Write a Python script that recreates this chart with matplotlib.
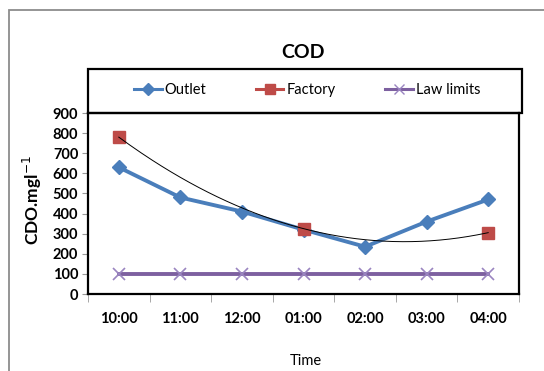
import matplotlib
matplotlib.use("Agg")
import matplotlib.pyplot as plt
from matplotlib.patches import Rectangle
from matplotlib.lines import Line2D
import numpy as np

plt.rcParams['font.family'] = ['Lato', 'DejaVu Sans']

times = ["10:00", "11:00", "12:00", "01:00", "02:00", "03:00", "04:00"]
outlet = [630, 480, 410, 320, 235, 360, 470]
factory_idx = [0, 3, 6]
factory = [780, 325, 305]
law_limits = [100, 100, 100, 100, 100, 100, 100]

BLUE, RED, PURPLE = "#4a7ebb", "#be4b48", "#7d60a0"

fig = plt.figure(figsize=(5.44, 3.71), dpi=100)
W, H = 544, 371

# outer chart frame (only top and left edges fall inside the image)
fig.add_artist(Rectangle((9 / W, -0.2), 1.2, 1 - 10.5 / H + 0.2,
                         transform=fig.transFigure, fill=False,
                         edgecolor="#8c8c8c", lw=1.3))

ax = fig.add_axes([88 / W, 1 - 294 / H, (519 - 88) / W, (294 - 113) / H])
x = np.arange(len(times))

ax.plot(x, outlet, color=BLUE, lw=2.8, marker="D", ms=7, zorder=3)
ax.plot(factory_idx, factory, color=RED, lw=0, marker="s", ms=9, zorder=4)
ax.plot(x, law_limits, color=PURPLE, lw=2.8, marker="x", ms=9,
        mew=1.2, mec="#9a85c0", zorder=3)

# 2nd order polynomial trendline on the factory readings
coef = np.polyfit(factory_idx, factory, 2)
xs = np.linspace(0, 6, 200)
ax.plot(xs, np.polyval(coef, xs), color="black", lw=0.7, zorder=5)

ax.set_xlim(-0.5, 6.5)
ax.set_ylim(0, 900)
ax.set_yticks(range(0, 901, 100))
ax.set_xticks(x)
ax.set_xticklabels(times)
ax.set_xticks(np.arange(-0.5, 7, 1), minor=True)
ax.tick_params(axis="x", which="major", length=0, pad=13, labelsize=10.5)
ax.tick_params(axis="x", which="minor", length=6, color="#999999")
ax.tick_params(axis="y", length=4, color="#999999", pad=3, labelsize=10.5)
for lbl in ax.get_xticklabels() + ax.get_yticklabels():
    lbl.set_fontweight("bold")
for s in ax.spines.values():
    s.set_linewidth(1.6)
    s.set_color("black")

fig.text(32 / W, 1 - 200 / H, "CDO.mgl$^{-1}$", rotation=90, ha="center",
         va="center", fontsize=12.5, fontweight="bold")
fig.text(306 / W, 1 - 361 / H, "Time", ha="center", va="center", fontsize=10.5)
fig.text(303 / W, 1 - 52 / H, "COD", ha="center", va="center",
         fontsize=14, fontweight="bold")

# legend box sitting on top of the plot area
fig.add_artist(Rectangle((88 / W, 1 - 112.5 / H), (522 - 88) / W, 44 / H,
                         transform=fig.transFigure, fill=False,
                         edgecolor="black", lw=1.6))
handles = [
    Line2D([], [], color=BLUE, lw=2.2, marker="D", ms=6),
    Line2D([], [], color=RED, lw=2.2, marker="s", ms=7),
    Line2D([], [], color=PURPLE, lw=2.2, marker="x", ms=7, mew=1,
           mec="#9a85c0"),
]
labels = ["Outlet", "Factory", "Law limits"]
fig.legend(handles, labels, loc="center", ncol=3,
           bbox_to_anchor=(307 / W, 1 - 90 / H), frameon=False,
           fontsize=10.5, handlelength=1.9, handletextpad=0.2,
           columnspacing=3.4)

fig.savefig("out.png", dpi=100)
